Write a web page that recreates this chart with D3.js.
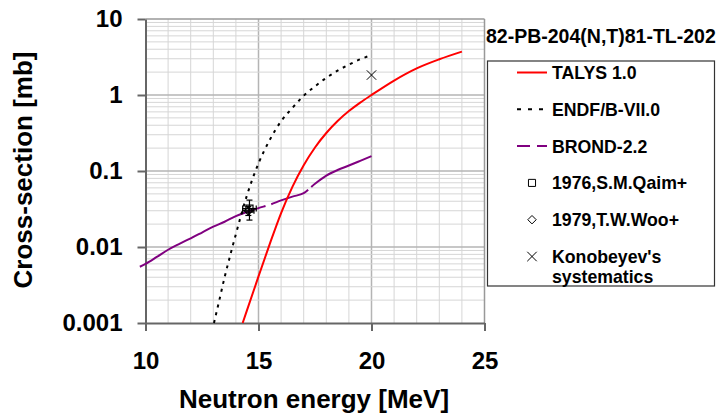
<!DOCTYPE html>
<html>
<head>
<meta charset="utf-8">
<script src="https://cdn.jsdelivr.net/npm/d3@7"></script>
<style>
  body { margin: 0; background: #fff; }
  text { font-family: "Liberation Sans", Arial, sans-serif; font-weight: bold; fill: #000; }
</style>
</head>
<body>
<svg id="chart" width="719" height="420"></svg>
<script>
// data
const talysE = [14.3, 14.5, 15, 15.5, 16, 16.5, 17, 17.5, 18, 18.5, 19, 19.5, 20, 21, 22, 23, 24];
const talysXS = [0.001, 0.0015, 0.0041, 0.011, 0.028, 0.0618, 0.119, 0.204, 0.316, 0.454, 0.614, 0.794, 1.0, 1.55, 2.24, 2.95, 3.72];

const endfE = [13.03, 13.25, 13.5, 13.75, 14, 14.25, 14.5, 14.75, 15, 15.5, 16, 16.5, 17, 17.5, 18, 18.5, 19, 19.5, 20];
const endfXS = [0.001, 0.0019, 0.004, 0.0078, 0.0148, 0.0275, 0.049, 0.081, 0.126, 0.257, 0.452, 0.676, 0.977, 1.3, 1.68, 2.09, 2.51, 2.95, 3.35];

const brondE = [9.75, 10, 10.5, 11, 11.5, 12, 12.5, 13, 13.5, 14, 14.5, 15, 15.5, 16, 16.5, 17, 17.5, 18, 18.5, 19, 19.5, 20];
const brondXS = [0.0055, 0.006, 0.0074, 0.0092, 0.011, 0.013, 0.0155, 0.0185, 0.0215, 0.0255, 0.029, 0.0325, 0.036, 0.041, 0.046, 0.051, 0.068, 0.087, 0.103, 0.118, 0.136, 0.157];

// experimental points: energy, value, dE, dXS
const qaim = [{ e: 14.6, v: 0.032, de: 0.3, dv: 0.0094 }];
const woo = [{ e: 14.55, v: 0.03, de: 0.25, dv: 0.004 }];
const konobeyev = [{ e: 20, v: 1.83 }];

const xTicks = [10, 15, 20, 25];
const yTicks = [0.001, 0.01, 0.1, 1, 10];

const svg = d3.select("#chart");

const x = d3.scaleLinear().domain([10, 25]).range([145.5, 484.5]);
const y = d3.scaleLog().domain([0.001, 10]).range([323, 19]);

// grid
const grid = svg.append("g");
d3.range(11, 25).forEach(e => {
  grid.append("line")
    .attr("x1", x(e)).attr("x2", x(e))
    .attr("y1", y(10)).attr("y2", y(0.001))
    .attr("stroke", e % 5 === 0 ? "#b4b4b4" : "#d6d6d6")
    .attr("stroke-width", e % 5 === 0 ? 1.5 : 1);
});
[0.001, 0.01, 0.1, 1].forEach(dec => {
  d3.range(2, 10).forEach(k => {
    grid.append("line")
      .attr("x1", x(10)).attr("x2", x(25))
      .attr("y1", y(dec * k)).attr("y2", y(dec * k))
      .attr("stroke", "#d6d6d6");
  });
  if (dec > 0.001) {
    grid.append("line")
      .attr("x1", x(10)).attr("x2", x(25))
      .attr("y1", y(dec)).attr("y2", y(dec))
      .attr("stroke", "#b4b4b4").attr("stroke-width", 1.5);
  }
});
// plot border top / right
grid.append("line").attr("x1", x(10)).attr("x2", x(25)).attr("y1", y(10)).attr("y2", y(10))
  .attr("stroke", "#999").attr("stroke-width", 1.5);
grid.append("line").attr("x1", x(25)).attr("x2", x(25)).attr("y1", y(10)).attr("y2", y(0.001))
  .attr("stroke", "#999").attr("stroke-width", 1.5);

// axes
const xAxis = svg.append("g")
  .attr("transform", `translate(0,${y(0.001)})`)
  .call(d3.axisBottom(x).tickValues(xTicks).tickSize(8).tickSizeOuter(0).tickPadding(21));
const yAxis = svg.append("g")
  .attr("transform", `translate(${x(10)},0)`)
  .call(d3.axisLeft(y).tickValues(yTicks).tickFormat(d => String(d)).tickSize(8).tickSizeOuter(0).tickPadding(15));
[xAxis, yAxis].forEach(a => {
  a.selectAll("path,line").attr("stroke", "#666").attr("stroke-width", 2);
  a.selectAll("text").attr("font-size", 24).attr("font-family", "Liberation Sans, Arial, sans-serif").attr("font-weight", "bold");
});

// curves
const line = d3.line().x(d => x(d[0])).y(d => y(d[1])).curve(d3.curveMonotoneX);

svg.append("path")
  .datum(brondE.map((e, i) => [e, brondXS[i]]))
  .attr("d", line).attr("fill", "none")
  .attr("stroke", "#800080").attr("stroke-width", 2)
  .attr("stroke-dasharray", "140,6,40,4,300");

svg.append("path")
  .datum(endfE.map((e, i) => [e, endfXS[i]]))
  .attr("d", line).attr("fill", "none")
  .attr("stroke", "#000").attr("stroke-width", 2)
  .attr("stroke-dasharray", "3,5");

svg.append("path")
  .datum(talysE.map((e, i) => [e, talysXS[i]]))
  .attr("d", line).attr("fill", "none")
  .attr("stroke", "#ff0000").attr("stroke-width", 2);

// error bars
function errorBars(data) {
  data.forEach(d => {
    const g = svg.append("g").attr("stroke", "#000").attr("stroke-width", 1.2);
    g.append("line").attr("x1", x(d.e)).attr("x2", x(d.e)).attr("y1", y(d.v - d.dv)).attr("y2", y(d.v + d.dv));
    g.append("line").attr("x1", x(d.e) - 3).attr("x2", x(d.e) + 3).attr("y1", y(d.v - d.dv)).attr("y2", y(d.v - d.dv));
    g.append("line").attr("x1", x(d.e) - 3).attr("x2", x(d.e) + 3).attr("y1", y(d.v + d.dv)).attr("y2", y(d.v + d.dv));
    g.append("line").attr("x1", x(d.e - d.de)).attr("x2", x(d.e + d.de)).attr("y1", y(d.v)).attr("y2", y(d.v));
    g.append("line").attr("x1", x(d.e - d.de)).attr("x2", x(d.e - d.de)).attr("y1", y(d.v) - 3).attr("y2", y(d.v) + 3);
    g.append("line").attr("x1", x(d.e + d.de)).attr("x2", x(d.e + d.de)).attr("y1", y(d.v) - 3).attr("y2", y(d.v) + 3);
  });
}
errorBars(qaim);
errorBars(woo);

const squareSym = d3.symbol().type(d3.symbolSquare).size(50);
const diamondSym = d3.symbol().type(d3.symbolDiamond2).size(45);
const crossSym = d3.symbol().type(d3.symbolTimes).size(60);

svg.selectAll(".qaim").data(qaim).enter().append("path")
  .attr("transform", d => `translate(${x(d.e)},${y(d.v)})`)
  .attr("d", squareSym).attr("fill", "none").attr("stroke", "#000").attr("stroke-width", 1.2);
svg.selectAll(".woo").data(woo).enter().append("path")
  .attr("transform", d => `translate(${x(d.e)},${y(d.v)})`)
  .attr("d", diamondSym).attr("fill", "none").attr("stroke", "#000").attr("stroke-width", 1.2);
svg.selectAll(".kon").data(konobeyev).enter().append("path")
  .attr("transform", d => `translate(${x(d.e)},${y(d.v)})`)
  .attr("d", crossSym).attr("fill", "none").attr("stroke", "#000").attr("stroke-width", 1);

// axis titles
svg.append("text")
  .attr("x", 314).attr("y", 408)
  .attr("text-anchor", "middle").attr("font-size", 26)
  .text("Neutron energy [MeV]");
svg.append("text")
  .attr("transform", "translate(32,170) rotate(-90)")
  .attr("text-anchor", "middle").attr("font-size", 26)
  .text("Cross-section [mb]");

// reaction title
svg.append("text")
  .attr("x", 486).attr("y", 43)
  .attr("font-size", 19.5)
  .text("82-PB-204(N,T)81-TL-202");

// legend
const legend = svg.append("g");
legend.append("rect")
  .attr("x", 487.5).attr("y", 61).attr("width", 227).attr("height", 225)
  .attr("fill", "#fff").attr("stroke", "#333").attr("stroke-width", 1.2);

const legendItems = [
  { label: ["TALYS 1.0"], type: "line", color: "#ff0000", dash: null },
  { label: ["ENDF/B-VII.0"], type: "line", color: "#000", dash: "4,7" },
  { label: ["BROND-2.2"], type: "line", color: "#800080", dash: "13,7" },
  { label: ["1976,S.M.Qaim+"], type: "sym", sym: squareSym },
  { label: ["1979,T.W.Woo+"], type: "sym", sym: diamondSym },
  { label: ["Konobeyev's", "systematics"], type: "sym", sym: crossSym }
];

legendItems.forEach((d, i) => {
  const cy = 72.5 + i * 36.8;
  if (d.type === "line") {
    legend.append("line")
      .attr("x1", 517).attr("x2", 547).attr("y1", cy).attr("y2", cy)
      .attr("stroke", d.color).attr("stroke-width", 2)
      .attr("stroke-dasharray", d.dash);
  } else {
    legend.append("path")
      .attr("transform", `translate(532,${cy})`)
      .attr("d", d.sym).attr("fill", "none").attr("stroke", "#000").attr("stroke-width", 1);
  }
  d.label.forEach((t, j) => {
    legend.append("text")
      .attr("x", 552).attr("y", cy + 6.5 + j * 20)
      .attr("font-size", 17.7)
      .text(t);
  });
});
</script>
</body>
</html>
